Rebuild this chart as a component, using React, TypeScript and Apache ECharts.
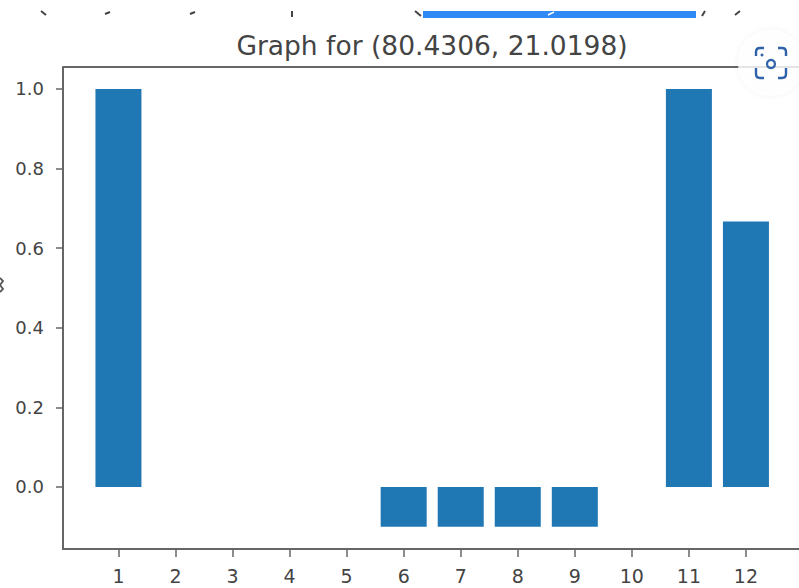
import React, { useEffect, useRef } from "react";
import * as echarts from "echarts";

const categories = [1, 2, 3, 4, 5, 6, 7, 8, 9, 10, 11, 12];
const values = [1, 0, 0, 0, 0, -0.1, -0.1, -0.1, -0.1, 0, 1, 0.667];
const yTicks = [0, 0.2, 0.4, 0.6, 0.8, 1];
const titleText = "Graph for (80.4306, 21.0198)";

const FONT = "DejaVu Sans";
const TEXT = "#444444";
const AXIS = "#666666";
const BAR = "#1f77b4";
const LENS = "#2f62a8";

const lensCorners =
  "M-7 -15 L-11 -15 Q-15 -15 -15 -11 L-15 -7 M7 -15 L11 -15 Q15 -15 15 -11 L15 -7 " +
  "M-15 5 L-15 11 Q-15 15 -11 15 L-7 15 M15 5 L15 11 Q15 15 11 15 L7 15";

echarts.graphic.registerShape("lensCorners", echarts.graphic.extendPath(lensCorners, {}) as any);

const glyphStrokes = [
  [41, 11, 46, 15],
  [110, 12, 105, 14],
  [195, 12, 190, 14],
  [292, 11, 292, 17],
  [415, 11, 421, 16],
  [705, 11, 702, 16],
  [740, 11, 735, 15],
];

export default function App() {
  const ref = useRef<HTMLDivElement>(null);
  useEffect(() => {
    document.body.style.margin = "0";
    const chart = echarts.init(ref.current!, undefined, { renderer: "svg" });
    chart.setOption({
      animation: false,
      backgroundColor: "#ffffff",
      title: {
        text: titleText,
        left: 427,
        top: 27,
        textAlign: "center",
        textStyle: { fontFamily: FONT, fontSize: 26.5, fontWeight: "normal", color: TEXT },
      },
      grid: { left: 63, top: 67, right: 0, height: 482 },
      xAxis: {
        type: "value",
        min: 0.028,
        max: 12.93,
        splitLine: { show: false },
        axisLine: { show: true, onZero: false, lineStyle: { color: AXIS, width: 2 } },
        axisTick: { show: true, length: 8, customValues: categories, lineStyle: { color: AXIS, width: 1.5 } },
        axisLabel: {
          show: true,
          customValues: categories,
          margin: 17,
          fontFamily: FONT,
          fontSize: 19,
          color: TEXT,
        },
      },
      yAxis: {
        type: "value",
        min: -0.156,
        max: 1.055,
        splitLine: { show: false },
        axisLine: { show: true, onZero: false, lineStyle: { color: AXIS, width: 2 } },
        axisTick: { show: true, length: 7, customValues: yTicks, lineStyle: { color: AXIS, width: 1.5 } },
        axisLabel: {
          show: true,
          customValues: yTicks,
          margin: 19,
          fontFamily: FONT,
          fontSize: 18,
          color: TEXT,
          formatter: (v: number) => v.toFixed(1),
        },
      },
      series: [
        {
          type: "bar",
          barWidth: 46,
          itemStyle: { color: BAR },
          data: categories.map((c, i) => [c, values[i]]),
        },
      ],
      graphic: [
        { type: "line", shape: { x1: 63, y1: 67, x2: 799, y2: 67 }, style: { stroke: AXIS, lineWidth: 2 }, z: 5 },
        { type: "rect", shape: { x: 423, y: 11, width: 273, height: 7 }, style: { fill: "#2f8af5" }, z: 5 },
        { type: "line", shape: { x1: 548, y1: 15, x2: 554, y2: 12 }, style: { stroke: "#ffffff", lineWidth: 1.5 }, z: 6 },
        ...glyphStrokes.map(([x1, y1, x2, y2]) => ({
          type: "line",
          shape: { x1, y1, x2, y2 },
          style: { stroke: "#444444", lineWidth: 2 },
          z: 5,
        })),
        {
          type: "polyline",
          shape: { points: [[0, 278], [3, 281], [0, 285], [3, 289], [0, 292]] },
          style: { fill: "none", stroke: "#555555", lineWidth: 1.8 },
          z: 5,
        },
        {
          type: "circle",
          shape: { cx: 771, cy: 63, r: 33 },
          style: { fill: "rgba(255,255,255,0.82)", shadowBlur: 6, shadowColor: "rgba(0,0,0,0.06)" },
          z: 6,
        },
        { type: "lensCorners", x: 771, y: 63, style: { fill: "none", stroke: LENS, lineWidth: 2.4 }, z: 7 },
        { type: "circle", shape: { cx: 771, cy: 64, r: 4 }, style: { fill: "none", stroke: LENS, lineWidth: 2.2 }, z: 7 },
        { type: "circle", shape: { cx: 762, cy: 55, r: 1.5 }, style: { fill: LENS }, z: 7 },
      ],
    });
    return () => chart.dispose();
  }, []);
  return <div ref={ref} style={{ width: 799, height: 588 }} />;
}
